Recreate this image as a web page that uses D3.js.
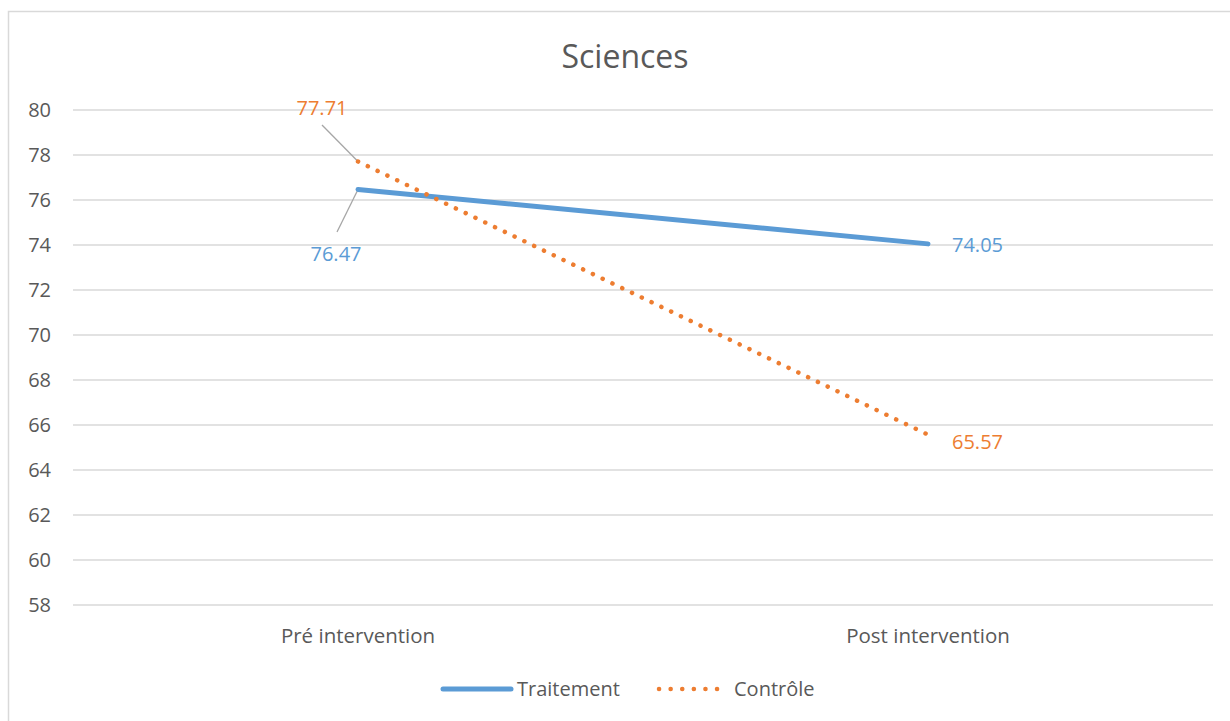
<!DOCTYPE html>
<html><head><meta charset="utf-8">
<script src="https://cdn.jsdelivr.net/npm/d3@7"></script>
<style>html,body{margin:0;padding:0;background:#fff;}svg{display:block;font-family:"Open Sans","Noto Sans",sans-serif;}</style>
</head><body>
<svg id="c" width="1230" height="721"></svg>
<script>
const title = "Sciences";
const categories = ["Pré intervention", "Post intervention"];
const seriesNames = ["Traitement", "Contrôle"];
const traitement = [76.47, 74.05];
const controle = [77.71, 65.57];
const yTicks = [58, 60, 62, 64, 66, 68, 70, 72, 74, 76, 78, 80];

const svg = d3.select("#c");
const FS = 20;

svg.append("rect").attr("x", 8.5).attr("y", 11.5).attr("width", 1240).attr("height", 740)
  .attr("fill", "#fff").attr("stroke", "#d9d9d9").attr("stroke-width", 1.5);

const x = d3.scaleBand().domain(categories).range([73, 1213]);
const y = d3.scaleLinear().domain([58, 80]).range([605, 110]);

// gridlines
svg.append("g").selectAll("line").data(yTicks).join("line")
  .attr("x1", 73).attr("x2", 1213).attr("y1", d => y(d)).attr("y2", d => y(d))
  .attr("stroke", "#d9d9d9").attr("stroke-width", 1.3);

// y axis labels
const yAxis = d3.axisLeft(y).tickValues(yTicks).tickSize(0).tickPadding(0);
const ya = svg.append("g").attr("transform", "translate(51,0)").call(yAxis);
ya.select(".domain").remove();
ya.selectAll("text").attr("font-size", FS).attr("fill", "#595959").attr("font-family", "Open Sans");

// x axis labels
const xAxis = d3.axisBottom(x).tickSize(0).tickPadding(0);
const xa = svg.append("g").attr("transform", "translate(0,628)").call(xAxis);
xa.select(".domain").remove();
xa.selectAll("text").attr("font-size", 20.5).attr("fill", "#595959").attr("font-family", "Open Sans");

// title
svg.append("text").attr("x", 625).attr("y", 68).attr("text-anchor", "middle")
  .attr("font-size", 32).attr("fill", "#595959").text(title);

const cx = d => x(d) + x.bandwidth() / 2;
const line = d3.line().x(d => cx(d.c)).y(d => y(d.v));

const tData = categories.map((c, i) => ({c, v: traitement[i]}));
const cData = categories.map((c, i) => ({c, v: controle[i]}));

// leader lines
svg.append("line").attr("x1", 322).attr("y1", 125).attr("x2", cx(categories[0])).attr("y2", y(controle[0]))
  .attr("stroke", "#a6a6a6").attr("stroke-width", 1.3);
svg.append("line").attr("x1", 337).attr("y1", 232).attr("x2", cx(categories[0])).attr("y2", y(traitement[0]))
  .attr("stroke", "#a6a6a6").attr("stroke-width", 1.3);

svg.append("path").datum(tData).attr("d", line).attr("fill", "none")
  .attr("stroke", "#5b9bd5").attr("stroke-width", 5).attr("stroke-linecap", "round");
svg.append("path").datum(cData).attr("d", line).attr("fill", "none")
  .attr("stroke", "#ed7d31").attr("stroke-width", 4.5).attr("stroke-linecap", "round")
  .attr("stroke-dasharray", "0.1 10.75");

const fmt = d3.format(".2f");
// data labels
svg.append("text").attr("x", 322).attr("y", 115).attr("text-anchor", "middle").attr("font-size", FS)
  .attr("fill", "#ed7d31").text(fmt(controle[0]));
svg.append("text").attr("x", 336).attr("y", 261).attr("text-anchor", "middle").attr("font-size", FS)
  .attr("fill", "#5b9bd5").text(fmt(traitement[0]));
svg.append("text").attr("x", cx(categories[1]) + 24).attr("y", y(traitement[1]) + 8).attr("font-size", FS)
  .attr("fill", "#5b9bd5").text(fmt(traitement[1]));
svg.append("text").attr("x", cx(categories[1]) + 24).attr("y", y(controle[1]) + 14).attr("font-size", FS)
  .attr("fill", "#ed7d31").text(fmt(controle[1]));

// legend
const lg = svg.append("g");
lg.append("line").attr("x1", 443).attr("x2", 511).attr("y1", 689).attr("y2", 689)
  .attr("stroke", "#5b9bd5").attr("stroke-width", 5).attr("stroke-linecap", "round");
lg.append("text").attr("x", 517).attr("y", 696).attr("font-size", FS).attr("fill", "#595959").text(seriesNames[0]);
lg.append("line").attr("x1", 659).attr("x2", 722).attr("y1", 689).attr("y2", 689)
  .attr("stroke", "#ed7d31").attr("stroke-width", 4.5).attr("stroke-linecap", "round")
  .attr("stroke-dasharray", "0.1 11.5");
lg.append("text").attr("x", 734).attr("y", 696).attr("font-size", FS).attr("fill", "#595959").text(seriesNames[1]);
</script>
</body></html>
